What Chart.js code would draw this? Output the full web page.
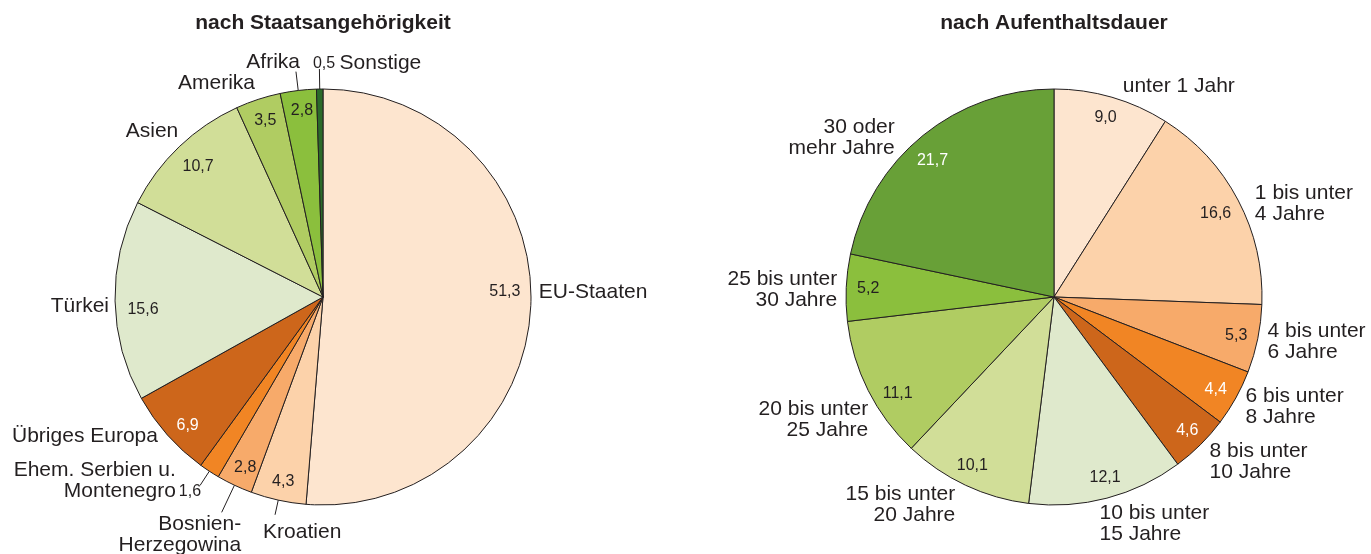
<!DOCTYPE html>
<html lang="de">
<head>
<meta charset="UTF-8">
<title>Ausländische Bevölkerung</title>
<style>
  html, body { margin: 0; padding: 0; background: #fff; }
  .wrap { position: relative; width: 1371px; height: 554px; }
  .pane { position: absolute; top: 0; height: 554px; }
  #paneLeft { left: 0; width: 686px; }
  #paneRight { left: 686px; width: 685px; }
</style>
<script src="https://cdn.jsdelivr.net/npm/chart.js@4.4.1/dist/chart.umd.min.js"></script>
</head>
<body>
<div class="wrap">
  <div class="pane" id="paneLeft"><canvas id="natChart"></canvas></div>
  <div class="pane" id="paneRight"><canvas id="durChart"></canvas></div>
</div>
<script>
// data
const natTitle = "nach Staatsangehörigkeit";
const natCategories = ["EU-Staaten", "Kroatien", "Bosnien-\nHerzegowina", "Ehem. Serbien u.\nMontenegro",
  "Übriges Europa", "Türkei", "Asien", "Amerika", "Afrika", "Sonstige"];
const natValues = [51.3, 4.3, 2.8, 1.6, 6.9, 15.6, 10.7, 3.5, 2.8, 0.5];

const durTitle = "nach Aufenthaltsdauer";
const durCategories = ["unter 1 Jahr", "1 bis unter\n4 Jahre", "4 bis unter\n6 Jahre", "6 bis unter\n8 Jahre",
  "8 bis unter\n10 Jahre", "10 bis unter\n15 Jahre", "15 bis unter\n20 Jahre", "20 bis unter\n25 Jahre",
  "25 bis unter\n30 Jahre", "30 oder\nmehr Jahre"];
const durValues = [9.0, 16.6, 5.3, 4.4, 4.6, 12.1, 10.1, 11.1, 5.2, 21.7];

// styling / layout (not data)
const TEXT = "#231f20";
const R = 208;
const natColors = ["#fde5cf", "#fcd2aa", "#f7aa6a", "#f18524", "#cd661b",
  "#dfe9cc", "#d1de98", "#b0cc62", "#8bbf3d", "#2b6b2a"];
const durColors = ["#fde5cf", "#fcd2aa", "#f7aa6a", "#f18524", "#cd661b",
  "#dfe9cc", "#d1de98", "#b0cc62", "#8bbf3d", "#68a037"];

const natLabelOpts = {
  title: natTitle,
  numColor: [TEXT, TEXT, TEXT, TEXT, "#fff", TEXT, TEXT, TEXT, TEXT, TEXT],
  align: ["left", "left", "right", "right", "right", "right", "right", "right", "right", "left"],
  labelNudge: [[-2, -14], [-13, 22], [11, 40], [-28, 1], [-2, -5], [4, 5], [6, -8], [0, -7], [3, -18], [20, -16]],
  numNudge: [[-3, -13], [0, 4], [1, 3], [-32, 40], [3, 6], [5, 9], [3, 3], [0, -1], [1, -3], [4, -48]],
  leader: [0, 15, 30, 17, 0, 0, 0, 0, 19, 20]
};
const durLabelOpts = {
  title: durTitle,
  numColor: [TEXT, TEXT, TEXT, "#fff", "#fff", TEXT, TEXT, TEXT, TEXT, "#fff"],
  align: ["left", "left", "left", "left", "left", "left", "right", "right", "right", "right"],
  labelNudge: [[8, -1], [8, 8], [0, 1], [1, 4], [2, 10], [-10, 16], [-6, 10], [9, 25], [1, 3], [-22, 10]],
  numNudge: [[0, -2], [-2, 3], [1, 1], [0, 3], [3, 2], [4, 2], [-3, 1], [9, 13], [-1, 0], [-5, 7]],
  leader: [0, 0, 0, 0, 0, 0, 0, 0, 0, 0]
};

const fmt = v => v.toFixed(1).replace(".", ",");

const sliceLabels = {
  id: "sliceLabels",
  afterDatasetsDraw(chart, args, opts) {
    const ctx = chart.ctx;
    const arcs = chart.getDatasetMeta(0).data;
    const labels = chart.data.labels;
    const values = chart.data.datasets[0].data;
    ctx.save();
    ctx.strokeStyle = TEXT;
    ctx.lineWidth = 1;
    ctx.textBaseline = "middle";
    arcs.forEach((arc, i) => {
      const p = arc.getProps(["x", "y", "startAngle", "endAngle", "outerRadius"], true);
      const mid = (p.startAngle + p.endAngle) / 2;
      const c = Math.cos(mid), s = Math.sin(mid);

      // leader line
      const lead = opts.leader[i];
      if (lead) {
        ctx.beginPath();
        ctx.moveTo(p.x + c * p.outerRadius, p.y + s * p.outerRadius);
        ctx.lineTo(p.x + c * (p.outerRadius + lead), p.y + s * (p.outerRadius + lead));
        ctx.stroke();
      }

      // value
      const nr = p.outerRadius - 23;
      ctx.font = '16px "Liberation Sans", Arial, sans-serif';
      ctx.fillStyle = opts.numColor[i];
      ctx.textAlign = "center";
      ctx.fillText(fmt(values[i]), p.x + c * nr + opts.numNudge[i][0], p.y + s * nr + opts.numNudge[i][1]);

      // category name
      const lr = p.outerRadius + 10;
      const lx = p.x + c * lr + opts.labelNudge[i][0];
      const ly = p.y + s * lr + opts.labelNudge[i][1];
      const lines = labels[i].split("\n");
      ctx.font = '21px "Liberation Sans", Arial, sans-serif';
      ctx.fillStyle = TEXT;
      ctx.textAlign = opts.align[i];
      lines.forEach((ln, k) => {
        ctx.fillText(ln, lx, ly + (k - (lines.length - 1) / 2) * 21);
      });
    });
    // title
    ctx.font = 'bold 21px "Liberation Sans", Arial, sans-serif';
    ctx.fillStyle = TEXT;
    ctx.textAlign = "center";
    ctx.fillText(opts.title, arcs[0].getProps(["x"], true).x, 23);
    ctx.restore();
  }
};

function makePie(id, labels, values, colors, labelOpts, cx, width) {
  return new Chart(document.getElementById(id), {
    type: "pie",
    data: {
      labels: labels,
      datasets: [{
        data: values,
        backgroundColor: colors,
        borderColor: TEXT,
        borderWidth: 1
      }]
    },
    options: {
      responsive: true,
      maintainAspectRatio: false,
      animation: false,
      radius: R,
      layout: {
        padding: { top: 297 - R, bottom: 554 - 297 - R, left: cx - R, right: width - cx - R }
      },
      plugins: {
        legend: { display: false },
        tooltip: { enabled: false },
        sliceLabels: labelOpts
      }
    },
    plugins: [sliceLabels]
  });
}

makePie("natChart", natCategories, natValues, natColors, natLabelOpts, 323, 686);
makePie("durChart", durCategories, durValues, durColors, durLabelOpts, 1054 - 686, 685);
</script>
</body>
</html>
